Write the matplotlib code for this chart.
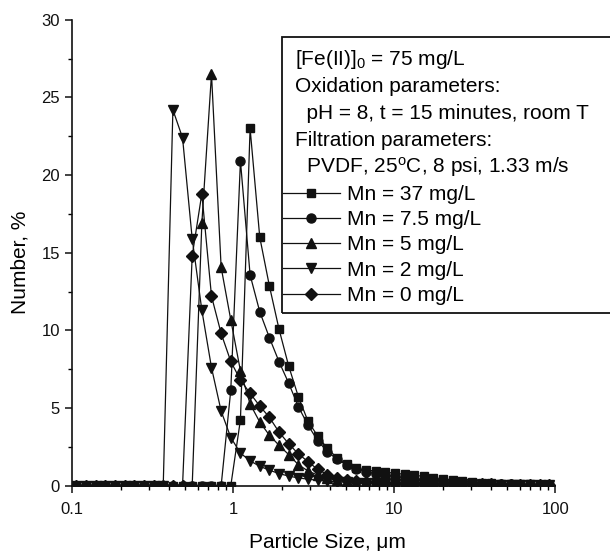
import matplotlib
matplotlib.use("Agg")
import matplotlib.pyplot as plt
from matplotlib.patches import Rectangle
from matplotlib.ticker import MultipleLocator, LogLocator, NullFormatter, FixedLocator

plt.rcParams['font.family'] = ['Liberation Sans', 'DejaVu Sans']
plt.rcParams['mathtext.fontset'] = 'custom'
plt.rcParams['mathtext.rm'] = 'Liberation Sans'
plt.rcParams['mathtext.it'] = 'Liberation Sans:italic'

# particle size bins, um
size = [0.106, 0.1217, 0.1397, 0.1604, 0.1841, 0.2114, 0.2427, 0.2786, 0.3198, 0.3671,
        0.4215, 0.4839, 0.5555, 0.6377, 0.7321, 0.8404, 0.9648, 1.1076, 1.2715, 1.4597,
        1.6757, 1.9237, 2.2084, 2.5353, 2.9105, 3.3413, 3.8358, 4.4035, 5.0552, 5.8034,
        6.6623, 7.6483, 8.7803, 10.080, 11.571, 13.284, 15.250, 17.507, 20.098, 23.072,
        26.487, 30.407, 34.907, 40.073, 46.004, 52.813, 60.629, 69.602, 79.903, 91.729]

# number distribution, %
mn37 = [0, 0, 0, 0, 0, 0, 0, 0, 0, 0,
        0, 0, 0, 0, 0, 0, 0, 4.25, 23.0, 16.0,
        12.86, 10.07, 7.7, 5.73, 4.15, 3.2, 2.4, 1.8, 1.4, 1.12,
        1.0, 0.95, 0.88, 0.8, 0.74, 0.67, 0.6, 0.52, 0.44, 0.37,
        0.3, 0.25, 0.2, 0.17, 0.14, 0.12, 0.1, 0.08, 0.07, 0.06]
mn7_5 = [0, 0, 0, 0, 0, 0, 0, 0, 0, 0,
         0, 0, 0, 0, 0, 0, 6.16, 20.9, 13.57, 11.2,
         9.53, 7.98, 6.6, 5.09, 3.9, 2.9, 2.2, 1.7, 1.35, 1.1,
         0.9, 0.78, 0.68, 0.6, 0.52, 0.45, 0.38, 0.32, 0.27, 0.22,
         0.18, 0.15, 0.12, 0.1, 0.09, 0.08, 0.07, 0.06, 0.05, 0.05]
mn5 = [0, 0, 0, 0, 0, 0, 0, 0, 0, 0,
       0, 0, 0, 16.9, 26.5, 14.06, 10.67, 7.39, 5.26, 4.1,
       3.25, 2.6, 2.0, 1.35, 0.95, 0.68, 0.5, 0.38, 0.3, 0.25,
       0.22, 0.2, 0.18, 0.16, 0.15, 0.14, 0.13, 0.12, 0.11, 0.1,
       0.09, 0.08, 0.08, 0.07, 0.07, 0.06, 0.06, 0.05, 0.05, 0.05]
mn2 = [0, 0, 0, 0, 0, 0, 0, 0, 0, 0,
       24.2, 22.4, 15.9, 11.3, 7.6, 4.8, 3.1, 2.1, 1.6, 1.25,
       1.0, 0.78, 0.62, 0.5, 0.42, 0.35, 0.3, 0.26, 0.22, 0.2,
       0.18, 0.16, 0.15, 0.14, 0.13, 0.12, 0.11, 0.1, 0.1, 0.09,
       0.08, 0.08, 0.07, 0.07, 0.06, 0.06, 0.05, 0.05, 0.05, 0.05]
mn0 = [0, 0, 0, 0, 0, 0, 0, 0, 0, 0,
       0, 0, 14.8, 18.8, 12.2, 9.8, 8.0, 6.8, 5.95, 5.13,
       4.4, 3.45, 2.7, 2.05, 1.55, 1.05, 0.72, 0.52, 0.38, 0.3,
       0.25, 0.22, 0.2, 0.18, 0.16, 0.15, 0.14, 0.13, 0.12, 0.11,
       0.1, 0.09, 0.08, 0.08, 0.07, 0.07, 0.06, 0.06, 0.05, 0.05]

series = [mn37, mn7_5, mn5, mn2, mn0]
labels = ['Mn = 37 mg/L', 'Mn = 7.5 mg/L', 'Mn = 5 mg/L', 'Mn = 2 mg/L', 'Mn = 0 mg/L']
markers = ['s', 'o', '^', 'v', 'D']
msizes = [6, 6.5, 7, 7, 6]

header = [r'[Fe(II)]$_{\mathrm{0}}$ = 75 mg/L',
          'Oxidation parameters:',
          '  pH = 8, t = 15 minutes, room T',
          'Filtration parameters:',
          r'  PVDF, 25$^{\mathrm{o}}$C, 8 psi, 1.33 m/s']

W, H = 610, 551
fig = plt.figure(figsize=(6.1, 5.51), dpi=100)
ax = fig.add_axes([72.3 / W, 1 - 485.7 / H, (555.3 - 72.3) / W, (485.7 - 19.7) / H])

col = '#111111'
handles = []
for y, lab, m, ms in zip(series, labels, markers, msizes):
    h, = ax.plot(size, y, color=col, lw=0.9, marker=m, ms=ms, mfc=col, mec=col, label=lab)
    handles.append(h)

ax.set_xscale('log')
ax.set_xlim(0.1, 100)
ax.set_ylim(0, 30)
ax.xaxis.set_major_locator(FixedLocator([0.1, 1, 10, 100]))
ax.set_xticklabels(['0.1', '1', '10', '100'])
ax.xaxis.set_minor_locator(LogLocator(base=10, subs=range(2, 10)))
ax.xaxis.set_minor_formatter(NullFormatter())
ax.yaxis.set_major_locator(MultipleLocator(5))
ax.yaxis.set_minor_locator(MultipleLocator(2.5))
ax.tick_params(which='major', direction='out', length=5, width=1.1, labelsize=12, colors=col)
ax.tick_params(which='minor', direction='out', length=3, width=1.0)
ax.tick_params(axis='x', which='major', pad=7)
ax.tick_params(axis='y', which='major', pad=4)
for s in ['top', 'right']:
    ax.spines[s].set_visible(False)
for s in ['left', 'bottom']:
    ax.spines[s].set_linewidth(1.2)
    ax.spines[s].set_color(col)

fig.text(20 / W, 1 - 262 / H, 'Number, %', rotation=90, ha='center', va='center', fontsize=15)
fig.text(327 / W, 1 - 542 / H, 'Particle Size, \u03bcm', ha='center', va='center', fontsize=15)

# annotation box
fig.add_artist(Rectangle((282.3 / W, 1 - 313.3 / H), 340 / W, (313.3 - 36.7) / H,
                         transform=fig.transFigure, fill=False, lw=1.3, ec=col))
ys = [59.3, 86, 113.3, 140, 167]
for t, yy in zip(header, ys):
    fig.text(295 / W, 1 - yy / H, t, ha='left', va='center', fontsize=15)

fig.legend(handles=handles, labels=labels, loc='upper left',
           bbox_to_anchor=(283.3 / W, 1 - 185 / H), frameon=False, fontsize=15,
           borderpad=0, borderaxespad=0, handlelength=2.7, handletextpad=0.35,
           labelspacing=0.3)

fig.savefig('out.png', dpi=100)
